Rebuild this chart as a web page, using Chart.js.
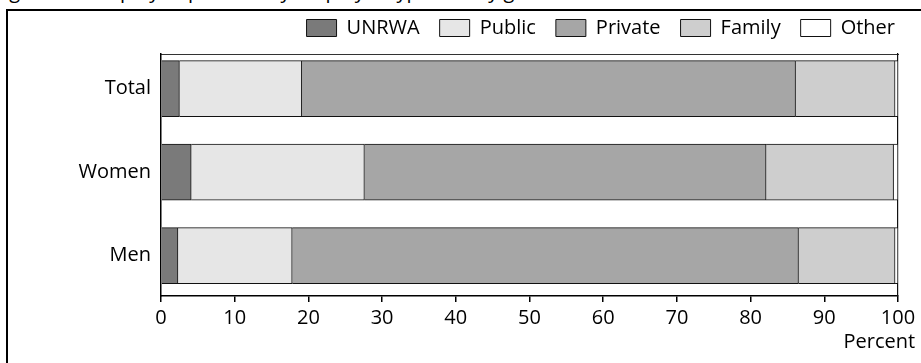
<!DOCTYPE html>
<html><head><meta charset="utf-8">
<script src="https://cdn.jsdelivr.net/npm/chart.js@4.4.0/dist/chart.umd.min.js"></script>
<style>
html,body{margin:0;padding:0;width:921px;height:363px;overflow:hidden;background:#fff;}
#title{position:absolute;left:-6px;top:-23px;font:20px "Open Sans";white-space:nowrap;color:#000;}
#frame{position:absolute;left:6px;top:9px;width:1000px;height:400px;border-left:2px solid #000;border-top:2px solid #000;}
#wrap{position:absolute;left:0;top:0;width:921px;height:363px;}
</style></head><body>
<div id="title">Figure 4.3 Employed persons by employer type and by gender</div>
<div id="frame"></div>
<div id="wrap"><canvas id="c" width="921" height="363"></canvas></div>
<script>
const categories = ['Total', 'Women', 'Men'];
const seriesNames = ['UNRWA', 'Public', 'Private', 'Family', 'Other'];
const unrwa = [2.5, 4.1, 2.3];
const publicSector = [16.6, 23.5, 15.5];
const privateSector = [67.0, 54.5, 68.7];
const family = [13.5, 17.3, 13.1];
const other = [0.4, 0.6, 0.4];
const xTickStep = 10;
const xMax = 100;
const axisTitle = 'Percent';

const seriesValues = [unrwa, publicSector, privateSector, family, other];
const fills = ['#7a7a7a', '#e6e6e6', '#a6a6a6', '#cecece', '#ffffff'];
const FONT = '"Open Sans", "Noto Sans", sans-serif';

const datasets = seriesNames.map((name, k) => ({
  label: name,
  data: seriesValues[k].map((v, i) => ({ x: v, y: i })),
  backgroundColor: fills[k],
  borderColor: '#111',
  borderWidth: 1,
  borderSkipped: 'start',
  barThickness: 56
}));

const percentTitle = {
  id: 'percentTitle',
  afterDraw(chart) {
    const ctx = chart.ctx;
    const xs = chart.scales.x;
    ctx.save();
    ctx.font = '20px ' + FONT;
    const half = ctx.measureText(String(xMax)).width / 2;
    ctx.fillStyle = '#000';
    ctx.textAlign = 'right';
    ctx.textBaseline = 'alphabetic';
    ctx.fillText(axisTitle, xs.getPixelForValue(xMax) + half, chart.chartArea.bottom + 52);
    ctx.restore();
  }
};

new Chart(document.getElementById('c'), {
  type: 'bar',
  data: { datasets },
  plugins: [percentTitle],
  options: {
    indexAxis: 'y',
    responsive: false,
    devicePixelRatio: 1,
    animation: false,
    layout: { padding: { top: -2, left: 0, right: 6, bottom: 0 } },
    plugins: {
      tooltip: { enabled: false },
      legend: {
        position: 'top',
        align: 'end',
        labels: {
          font: { family: FONT, size: 20 },
          color: '#000',
          boxWidth: 30,
          boxHeight: 17,
          padding: 20
        }
      }
    },
    scales: {
      x: {
        type: 'linear',
        stacked: true,
        min: 0,
        max: xMax,
        position: 'bottom',
        afterFit: s => { s.height = 67; },
        ticks: { stepSize: xTickStep, font: { family: FONT, size: 20 }, color: '#000', padding: 4, maxRotation: 0 },
        grid: { display: true, drawOnChartArea: false, drawTicks: true, tickLength: 6, color: '#000', lineWidth: 1.5 },
        border: { display: true, color: '#000', width: 1.5 }
      },
      x2: {
        type: 'linear',
        position: 'top',
        min: 0,
        max: xMax,
        afterFit: s => { s.height = 6; },
        ticks: { display: false },
        grid: { display: false },
        border: { display: true, color: '#333', width: 1 }
      },
      y: {
        type: 'linear',
        stacked: true,
        reverse: true,
        offset: false,
        min: -0.415,
        max: 2.483,
        afterFit: s => { s.width = 161; },
        afterBuildTicks: s => { s.ticks = categories.map((_, i) => ({ value: i })); },
        ticks: {
          font: { family: FONT, size: 20 },
          color: '#000',
          padding: 10,
          callback: v => categories[Math.round(v)]
        },
        grid: { display: false, drawTicks: false, offset: false },
        border: { display: true, color: '#000', width: 1.5 }
      },
      y2: {
        type: 'linear',
        position: 'right',
        afterFit: s => { s.width = 17; },
        ticks: { display: false },
        grid: { display: false },
        border: { display: true, color: '#111', width: 1.2 }
      }
    }
  }
});
</script>
</body></html>
